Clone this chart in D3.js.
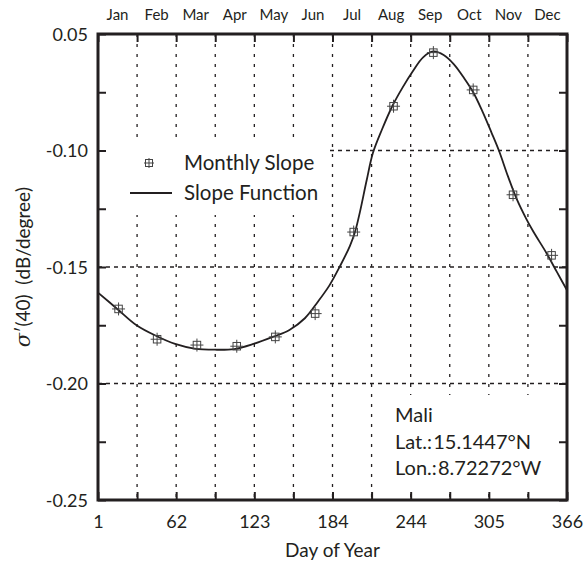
<!DOCTYPE html>
<html><head><meta charset="utf-8">
<script src="https://cdn.jsdelivr.net/npm/d3@7"></script>
<style>
html,body{margin:0;padding:0;background:#fff;}
text{font-family:Lato,"Open Sans",sans-serif;fill:#231f20;}
</style></head>
<body><svg id="c" width="586" height="567"></svg>
<script>
// ---- data ----
const months = ["Jan","Feb","Mar","Apr","May","Jun","Jul","Aug","Sep","Oct","Nov","Dec"];
const xTickLabels = ["1","62","123","184","244","305","366"];
const yTickValues = [-0.25,-0.20,-0.15,-0.10,-0.05];
const yTickLabels = ["-0.25","-0.20","-0.15","-0.10","0.05"];
const monthlyDays = [17,47,78,109,139,170,200,231,262,293,324,354];
const monthlySlope = [-0.168,-0.181,-0.1835,-0.184,-0.180,-0.170,-0.135,-0.081,-0.058,-0.074,-0.119,-0.145];
const fnDays = [1,16,31,46,61,76,92,107,122,137,150,162,172,181,189,197,201,205,210,215,222,230,238,246,254,262,270,278,286,293,300,307,313,320,327,334,340,350,358,366];
const fnSlope = [-0.161,-0.168,-0.175,-0.1795,-0.183,-0.185,-0.1855,-0.1852,-0.183,-0.180,-0.177,-0.172,-0.165,-0.158,-0.150,-0.141,-0.135,-0.126,-0.113,-0.101,-0.091,-0.081,-0.073,-0.066,-0.060,-0.0575,-0.059,-0.063,-0.069,-0.075,-0.083,-0.092,-0.100,-0.111,-0.121,-0.129,-0.135,-0.144,-0.152,-0.160];
const site = ["Mali","Lat.:\u200a15.1447°N","Lon.:\u200a8.72272°W"];

// ---- layout ----
const L=98, R=567, T=34, B=500;
const svg = d3.select("#c");
const x = d3.scaleLinear().domain([1,366]).range([L,R]);
const y = d3.scaleLinear().domain([-0.25,-0.05]).range([B,T]);
const ink = "#231f20";
const monthBounds = d3.range(13).map(i => 1 + i*365/12);
const yMinor = d3.range(9).map(i => -0.25 + i*0.025);

// gridlines
svg.append("g").selectAll("line").data(monthBounds.slice(1,12)).join("line")
  .attr("x1",d=>x(d)).attr("x2",d=>x(d)).attr("y1",T).attr("y2",B)
  .attr("stroke",ink).attr("stroke-width",1.3).attr("stroke-dasharray","3,7");
svg.append("g").selectAll("line").data([-0.20,-0.15,-0.10]).join("line")
  .attr("x1",L).attr("x2",R).attr("y1",d=>y(d)).attr("y2",d=>y(d))
  .attr("stroke",ink).attr("stroke-width",1.3).attr("stroke-dasharray","4,4");

// white boxes (legend / annotation)
svg.append("rect").attr("x",L+1).attr("y",139).attr("width",229).attr("height",76).attr("fill","#fff");
svg.append("rect").attr("x",385).attr("y",395).attr("width",R-386).attr("height",B-395-8).attr("fill","#fff");

// curve
const line = d3.line().x((d,i)=>x(fnDays[i])).y(d=>y(d)).curve(d3.curveCatmullRom.alpha(0.5));
svg.append("path").datum(fnSlope).attr("d",line).attr("fill","none").attr("stroke",ink).attr("stroke-width",1.8);

// markers
function marker(g, cx, cy, s, a){
  g.append("rect").attr("x",cx-s/2).attr("y",cy-s/2).attr("width",s).attr("height",s)
   .attr("fill","none").attr("stroke","#444").attr("stroke-width",1);
  g.append("line").attr("x1",cx-a).attr("x2",cx+a).attr("y1",cy).attr("y2",cy).attr("stroke","#444").attr("stroke-width",1);
  g.append("line").attr("x1",cx).attr("x2",cx).attr("y1",cy-a).attr("y2",cy+a).attr("stroke","#444").attr("stroke-width",1);
}
const mg = svg.append("g");
monthlySlope.forEach((v,i)=>marker(mg, x(monthlyDays[i]), y(v), 7.5, 6.5));

// axes (ticks)
function styleAxis(g){ g.select(".domain").remove(); g.selectAll("line").attr("stroke",ink).attr("stroke-width",2); }
const gB = svg.append("g").attr("transform",`translate(0,${B})`)
  .call(d3.axisBottom(x).tickValues(monthBounds).tickSize(-8).tickSizeOuter(0)
    .tickFormat((d,i)=> i%2===0 ? xTickLabels[i/2] : ""));
styleAxis(gB);
gB.selectAll("text").attr("y",28).attr("dy",null).attr("fill",ink)
  .style("font-family","Lato, sans-serif").style("font-size","18px");
const gT = svg.append("g").attr("transform",`translate(0,${T})`)
  .call(d3.axisTop(x).tickValues(monthBounds).tickSize(-8).tickSizeOuter(0).tickFormat(""));
styleAxis(gT);
const gL = svg.append("g").attr("transform",`translate(${L},0)`)
  .call(d3.axisLeft(y).tickValues(yMinor).tickSize(-8).tickSizeOuter(0)
    .tickFormat(d=>{const k=yTickValues.findIndex(v=>Math.abs(v-d)<1e-9); return k>=0?yTickLabels[k]:"";}));
styleAxis(gL);
gL.selectAll("text").attr("x",-10).attr("dy","0.36em").attr("fill",ink)
  .style("font-family","Lato, sans-serif").style("font-size","18px");
const gR = svg.append("g").attr("transform",`translate(${R},0)`)
  .call(d3.axisRight(y).tickValues(yMinor).tickSize(-8).tickSizeOuter(0).tickFormat(""));
styleAxis(gR);

// frame
svg.append("rect").attr("x",L).attr("y",T).attr("width",R-L).attr("height",B-T)
  .attr("fill","none").attr("stroke",ink).attr("stroke-width",3);

// month labels
svg.append("g").selectAll("text").data(months).join("text")
  .attr("x",(d,i)=>x(1+(i+0.5)*365/12)).attr("y",20).attr("text-anchor","middle")
  .style("font-size","15px").text(d=>d);

// axis titles
svg.append("text").attr("x",(L+R)/2).attr("y",557).attr("text-anchor","middle")
  .style("font-size","19px").text("Day of Year");
const yt = svg.append("text").attr("transform",`translate(30,${(T+B)/2}) rotate(-90)`)
  .attr("text-anchor","middle").style("font-size","19px");
yt.append("tspan").style("font-style","italic").style("font-family","'DejaVu Serif',serif").style("font-size","21px").text("σ");
yt.append("tspan").text("′(40)\u00a0\u00a0(dB/degree)");

// legend
marker(svg, 149, 163, 7, 5);
svg.append("text").attr("x",184).attr("y",170).style("font-size","20.5px").text("Monthly Slope");
svg.append("line").attr("x1",130).attr("x2",172).attr("y1",193).attr("y2",193).attr("stroke",ink).attr("stroke-width",1.8);
svg.append("text").attr("x",184).attr("y",200).style("font-size","20.5px").text("Slope Function");

// site annotation
svg.append("g").selectAll("text").data(site).join("text")
  .attr("x",395).attr("y",(d,i)=>422+i*26.5).style("font-size","20px").text(d=>d);
</script></body></html>
